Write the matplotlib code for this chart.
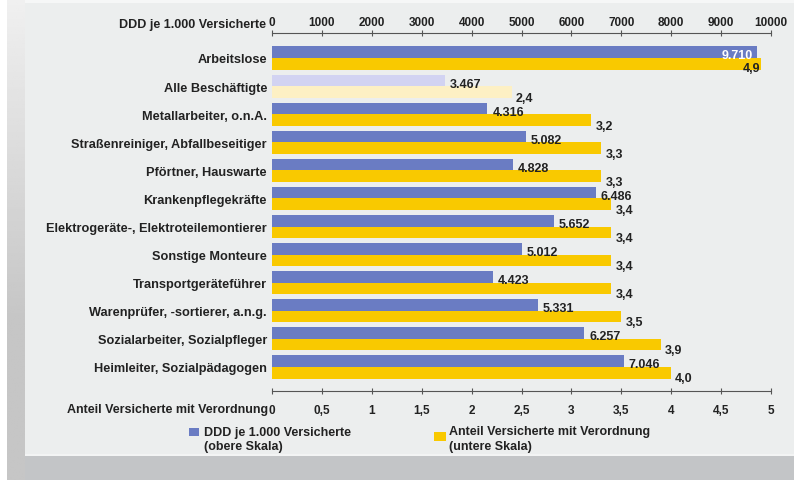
import matplotlib
matplotlib.use("Agg")
import matplotlib.pyplot as plt
from matplotlib.patches import Rectangle
import numpy as np

categories = [
    "Arbeitslose",
    "Alle Beschäftigte",
    "Metallarbeiter, o.n.A.",
    "Straßenreiniger, Abfallbeseitiger",
    "Pförtner, Hauswarte",
    "Krankenpflegekräfte",
    "Elektrogeräte-, Elektroteilemontierer",
    "Sonstige Monteure",
    "Transportgeräteführer",
    "Warenprüfer, -sortierer, a.n.g.",
    "Sozialarbeiter, Sozialpfleger",
    "Heimleiter, Sozialpädagogen",
]
ddd = [9710, 3467, 4316, 5082, 4828, 6486, 5652, 5012, 4423, 5331, 6257, 7046]
anteil = [4.9, 2.4, 3.2, 3.3, 3.3, 3.4, 3.4, 3.4, 3.4, 3.5, 3.9, 4.0]
top_ticks = [0, 1000, 2000, 3000, 4000, 5000, 6000, 7000, 8000, 9000, 10000]
bottom_ticks = [0, 0.5, 1, 1.5, 2, 2.5, 3, 3.5, 4, 4.5, 5]
bottom_ticklabels = ["0", "0,5", "1", "1,5", "2", "2,5", "3", "3,5", "4", "4,5", "5"]

BLUE = "#6a7cc3"
BLUE_LIGHT = "#d2d3f2"
YELLOW = "#f9c900"
YELLOW_LIGHT = "#fdf0c4"
TXT = "#222222"
FONT = "Liberation Sans"

plt.rcParams["font.family"] = FONT

W, H = 794, 481
fig = plt.figure(figsize=(W / 100, H / 100), dpi=100)
fig.patch.set_facecolor("white")

def frect(x0, y0, x1, y1, color, z=-10):
    fig.patches.append(Rectangle((x0 / W, 1 - y1 / H), (x1 - x0) / W, (y1 - y0) / H,
                                 transform=fig.transFigure, facecolor=color,
                                 edgecolor="none", zorder=z))

# background frame
frect(25, 457, W, H, "#c3c5c7")
bg = fig.add_axes([7 / W, 0, 18 / W, 1], zorder=-5)
yy = np.linspace(0, H, 200)
grad = np.clip(0.94 - (0.94 - 0.775) * yy / 320, 0.775, 1).reshape(-1, 1)
bg.imshow(grad, aspect="auto", cmap="gray", vmin=0, vmax=1, extent=[0, 1, 0, 1], origin="upper")
bg.axis("off")
frect(25, 0, W, 457, "#eceeee")
frect(25, 0, W, 4, "#f6f7f7")
frect(25, 455, W, 457, "#f3f4f4")

ax = fig.add_axes([272 / W, 1 - 392 / H, 499 / W, 358 / H])
ax.set_facecolor("none")
ax2 = ax.twiny()
ax2.set_facecolor("none")

n = len(categories)
y = np.arange(n)
h = 0.41
off = 0.205

bcols = [BLUE_LIGHT if c == "Alle Beschäftigte" else BLUE for c in categories]
ycols = [YELLOW_LIGHT if c == "Alle Beschäftigte" else YELLOW for c in categories]

ax2.barh(y - off, ddd, height=h, color=bcols, edgecolor="none")
ax.barh(y + off, anteil, height=h, color=ycols, edgecolor="none")

ax.set_xlim(0, 5)
ax2.set_xlim(0, 10000)
ax.set_ylim(n - 1 + 0.855, -0.89)

def de_int(v):
    return f"{v:,}".replace(",", ".")

def de_dec(v):
    return f"{v:.1f}".replace(".", ",")

LFS = 9
for i in range(n):
    if ddd[i] > 9000:
        ax2.text(ddd[i] - 80, i - off + 0.03, de_int(ddd[i]), ha="right", va="center_baseline",
                 color="white", fontsize=LFS, fontweight="bold")
    else:
        ax2.text(ddd[i] + 100, i - off + 0.06, de_int(ddd[i]), ha="left", va="center_baseline",
                 color=TXT, fontsize=LFS, fontweight="bold")
    if anteil[i] > 4.5:
        ax.text(anteil[i] - 0.005, i + off + 0.1, de_dec(anteil[i]), ha="right", va="center_baseline",
                color=TXT, fontsize=LFS, fontweight="bold")
    else:
        ax.text(anteil[i] + 0.04, i + off + 0.15, de_dec(anteil[i]), ha="left", va="center_baseline",
                color=TXT, fontsize=LFS, fontweight="bold")

for s in ["left", "right", "top"]:
    ax.spines[s].set_visible(False)
for s in ["left", "right", "bottom"]:
    ax2.spines[s].set_visible(False)
ax.spines["bottom"].set_color("#555555")
ax.spines["bottom"].set_linewidth(0.8)
ax2.spines["top"].set_color("#555555")
ax2.spines["top"].set_linewidth(0.8)

ax.set_yticks(y)
ax.set_yticklabels(categories, fontsize=9.2, color=TXT, fontweight="bold")
ax.tick_params(axis="y", length=0, pad=3.6)

ax.set_xticks(bottom_ticks)
ax.set_xticklabels(bottom_ticklabels, fontsize=8.5, color=TXT, fontweight="bold")
ax.tick_params(axis="x", direction="inout", length=5, width=0.8, color="#555555", pad=7)

ax2.set_xticks(top_ticks)
ax2.set_xticklabels([str(t) for t in top_ticks], fontsize=8.5, color=TXT, fontweight="bold")
ax2.tick_params(axis="x", direction="inout", length=5, width=0.8, color="#555555", pad=1)

fig.text(266 / W, 1 - 25 / H, "DDD je 1.000 Versicherte", ha="right", va="center",
         fontsize=9, color=TXT, fontweight="bold")
fig.text(268 / W, 1 - 410 / H, "Anteil Versicherte mit Verordnung", ha="right", va="center",
         fontsize=9, color=TXT, fontweight="bold")

# legend
LG = 9
frect(189, 429, 199, 437, BLUE, z=5)
fig.text(204 / W, 1 - 433 / H, "DDD je 1.000 Versicherte", ha="left", va="center",
         fontsize=LG, color=TXT, fontweight="bold")
fig.text(204 / W, 1 - 447 / H, "(obere Skala)", ha="left", va="center",
         fontsize=LG, color=TXT, fontweight="bold")
frect(434, 433, 446, 442, YELLOW, z=5)
fig.text(449 / W, 1 - 432 / H, "Anteil Versicherte mit Verordnung", ha="left", va="center",
         fontsize=LG, color=TXT, fontweight="bold")
fig.text(449 / W, 1 - 447 / H, "(untere Skala)", ha="left", va="center",
         fontsize=LG, color=TXT, fontweight="bold")

fig.savefig("out.png", dpi=100, facecolor=fig.get_facecolor())
